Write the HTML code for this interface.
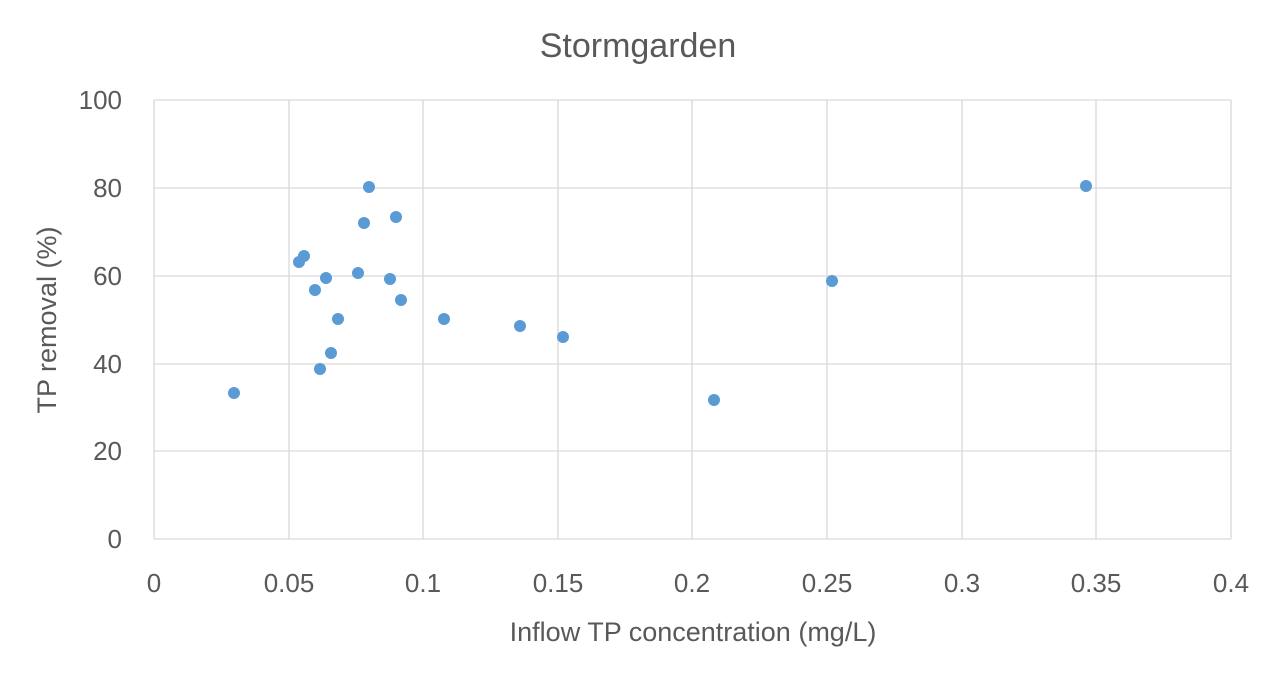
<!DOCTYPE html>
<html><head><meta charset="utf-8"><style>
html,body{margin:0;padding:0;background:#fff;}
svg{display:block;}
text{font-family:"Liberation Sans",sans-serif;fill:#595959;}
</style></head><body>
<svg width="1276" height="675" viewBox="0 0 1276 675">
<rect width="1276" height="675" fill="#fff"/>
<text x="638" y="57" font-size="34" text-anchor="middle">Stormgarden</text>
<g stroke="#d9d9d9" stroke-width="1.3">
<line x1="154" y1="100" x2="1231" y2="100"/>
<line x1="154" y1="188" x2="1231" y2="188"/>
<line x1="154" y1="276" x2="1231" y2="276"/>
<line x1="154" y1="364" x2="1231" y2="364"/>
<line x1="154" y1="451" x2="1231" y2="451"/>
<line x1="154" y1="539" x2="1231" y2="539"/>
<line x1="154" y1="100" x2="154" y2="539"/>
<line x1="289" y1="100" x2="289" y2="539"/>
<line x1="423" y1="100" x2="423" y2="539"/>
<line x1="558" y1="100" x2="558" y2="539"/>
<line x1="692" y1="100" x2="692" y2="539"/>
<line x1="827" y1="100" x2="827" y2="539"/>
<line x1="962" y1="100" x2="962" y2="539"/>
<line x1="1096" y1="100" x2="1096" y2="539"/>
<line x1="1231" y1="100" x2="1231" y2="539"/>
</g>
<g font-size="26" text-anchor="end">
<text x="122" y="109">100</text>
<text x="122" y="197">80</text>
<text x="122" y="285">60</text>
<text x="122" y="373">40</text>
<text x="122" y="460">20</text>
<text x="122" y="548">0</text>
</g>
<g font-size="26" text-anchor="middle">
<text x="154" y="592">0</text>
<text x="289" y="592">0.05</text>
<text x="423" y="592">0.1</text>
<text x="558" y="592">0.15</text>
<text x="692" y="592">0.2</text>
<text x="827" y="592">0.25</text>
<text x="962" y="592">0.3</text>
<text x="1096" y="592">0.35</text>
<text x="1231" y="592">0.4</text>
</g>
<text x="693" y="641" font-size="27" text-anchor="middle">Inflow TP concentration (mg/L)</text>
<text transform="translate(56,320) rotate(-90)" font-size="27" text-anchor="middle">TP removal (%)</text>
<g fill="#5b9bd5">
<circle cx="234" cy="393" r="6"/><circle cx="299" cy="262" r="6"/>
<circle cx="304" cy="256" r="6"/><circle cx="315" cy="290" r="6"/>
<circle cx="320" cy="369" r="6"/><circle cx="326" cy="278" r="6"/>
<circle cx="331" cy="353" r="6"/><circle cx="338" cy="319" r="6"/>
<circle cx="358" cy="273" r="6"/><circle cx="364" cy="223" r="6"/>
<circle cx="369" cy="187" r="6"/><circle cx="390" cy="279" r="6"/>
<circle cx="396" cy="217" r="6"/><circle cx="401" cy="300" r="6"/>
<circle cx="444" cy="319" r="6"/><circle cx="520" cy="326" r="6"/>
<circle cx="563" cy="337" r="6"/><circle cx="714" cy="400" r="6"/>
<circle cx="832" cy="281" r="6"/><circle cx="1086" cy="186" r="6"/>
</g>
</svg>
</body></html>
